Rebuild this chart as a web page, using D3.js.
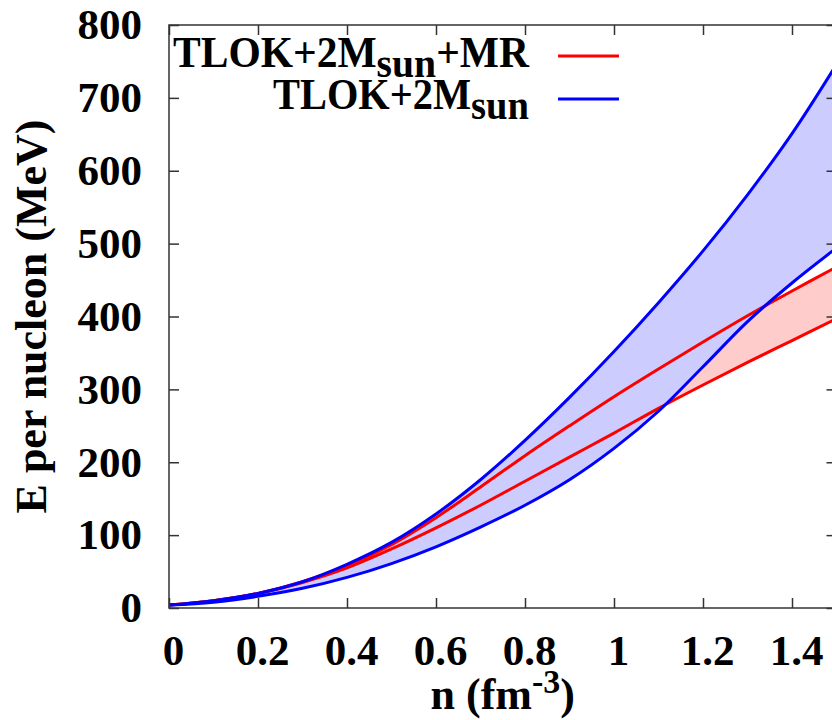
<!DOCTYPE html>
<html>
<head>
<meta charset="utf-8">
<script src="https://cdn.jsdelivr.net/npm/d3@7"></script>
<style>
  html, body { margin: 0; padding: 0; background: #fff; }
  svg { display: block; }
  text { font-family: "Liberation Serif", "Times New Roman", serif; font-weight: bold; fill: #000; }
</style>
</head>
<body>
<script>
// Energy per nucleon bands vs. baryon density
const density    = [0, 0.1, 0.2, 0.3, 0.4, 0.5, 0.6, 0.7, 0.8, 0.9, 1.0, 1.1, 1.2, 1.3, 1.4, 1.5];
const blueUpper  = [4, 10, 20, 36, 60, 90, 129, 176, 230, 289, 352, 419, 490, 567, 651, 746];
const blueLower  = [4, 8, 16, 27, 42, 61, 84, 111, 141, 176, 219, 270, 331, 393, 446, 494];
const redUpper   = [4, 10, 20, 36, 58, 87, 124, 166, 209, 250, 290, 328, 365, 401, 435, 468];
const redLower   = [4, 10, 20, 35, 55, 81, 110, 141, 174, 207, 240, 274, 306, 337, 367, 397];

const xTicks      = [0, 0.2, 0.4, 0.6, 0.8, 1.0, 1.2, 1.4];
const xTickLabels = ["0", "0.2", "0.4", "0.6", "0.8", "1", "1.2", "1.4"];
const yTicks      = [0, 100, 200, 300, 400, 500, 600, 700, 800];
const yTickLabels = ["0", "100", "200", "300", "400", "500", "600", "700", "800"];

const W = 832, H = 720;
const svg = d3.select("body").append("svg").attr("width", W).attr("height", H);

const x = d3.scaleLinear().domain([0, 1.5]).range([169, 836.5]);
const y = d3.scaleLinear().domain([0, 800]).range([608, 25]);

const rows = density.map((n, i) => ({
  n, bu: blueUpper[i], bl: blueLower[i], ru: redUpper[i], rl: redLower[i]
}));

const curve = d3.curveCatmullRom.alpha(0.5);
const band = (hi, lo) => d3.area().x(d => x(d.n)).y0(d => y(d[lo])).y1(d => y(d[hi])).curve(curve);
const line = key => d3.line().x(d => x(d.n)).y(d => y(d[key])).curve(curve);

const plot = svg.append("g");
plot.append("path").datum(rows).attr("d", band("ru", "rl")).attr("fill", "#ffcccc");
plot.append("path").datum(rows).attr("d", band("bu", "bl")).attr("fill", "#ccccff");

const RED = "#ff0000", BLUE = "#0000ff";
[["ru", RED], ["rl", RED], ["bu", BLUE], ["bl", BLUE]].forEach(([k, c]) => {
  plot.append("path").datum(rows).attr("d", line(k))
    .attr("fill", "none").attr("stroke", c).attr("stroke-width", 3)
    .attr("stroke-linejoin", "round");
});

// frame
svg.append("rect")
  .attr("x", x(0)).attr("y", y(800))
  .attr("width", x(1.5) - x(0)).attr("height", y(0) - y(800))
  .attr("fill", "none").attr("stroke", "#333").attr("stroke-width", 1.5);

const fs = 43;
const styleAxis = g => {
  g.select(".domain").remove();
  g.selectAll(".tick line").attr("stroke", "#333").attr("stroke-width", 1.5);
  g.selectAll("text").attr("font-size", fs).attr("fill", "#000")
    .attr("font-family", "Liberation Serif, Times New Roman, serif").attr("font-weight", "bold");
};

svg.append("g").attr("transform", `translate(0,${y(0)})`)
  .call(d3.axisBottom(x).tickValues(xTicks).tickFormat((d, i) => xTickLabels[i])
    .tickSizeInner(-10).tickSizeOuter(0).tickPadding(26))
  .call(styleAxis)
  .call(g => g.selectAll("text").attr("dx", 4));

svg.append("g").attr("transform", `translate(0,${y(800)})`)
  .call(d3.axisTop(x).tickValues(xTicks).tickFormat("").tickSizeInner(-10).tickSizeOuter(0))
  .call(styleAxis);

svg.append("g").attr("transform", `translate(${x(0)},0)`)
  .call(d3.axisLeft(y).tickValues(yTicks).tickFormat((d, i) => yTickLabels[i])
    .tickSizeInner(-10).tickSizeOuter(0).tickPadding(27))
  .call(styleAxis);

svg.append("g").attr("transform", `translate(${x(1.5)},0)`)
  .call(d3.axisRight(y).tickValues(yTicks).tickFormat("").tickSizeInner(-10).tickSizeOuter(0))
  .call(styleAxis);

// axis titles
const xt = svg.append("text").attr("x", (x(0) + x(1.5)) / 2).attr("y", 709)
  .attr("text-anchor", "middle").attr("font-size", 44);
xt.append("tspan").text("n (fm");
xt.append("tspan").attr("font-size", 34).attr("dy", -16).text("-3");
xt.append("tspan").attr("dy", 16).text(")");

svg.append("text")
  .attr("transform", `translate(46,${(y(0) + y(800)) / 2}) rotate(-90)`)
  .attr("text-anchor", "middle").attr("font-size", 44)
  .text("E per nucleon (MeV)");

// legend
const legend = [
  { label: "TLOK+2M", sub: "sun", tail: "+MR", color: RED, ty: 67, ly: 56, w: 356 },
  { label: "TLOK+2M", sub: "sun", tail: "", color: BLUE, ty: 109, ly: 99, w: 256 }
];
legend.forEach(e => {
  const t = svg.append("text").attr("x", 529).attr("y", e.ty)
    .attr("text-anchor", "end").attr("font-size", 44)
    .attr("textLength", e.w).attr("lengthAdjust", "spacingAndGlyphs");
  t.append("tspan").text(e.label);
  t.append("tspan").attr("font-size", 42).attr("dy", 10).text(e.sub);
  if (e.tail) t.append("tspan").attr("dy", -10).text(e.tail);
  svg.append("line").attr("x1", 558).attr("x2", 619).attr("y1", e.ly).attr("y2", e.ly)
    .attr("stroke", e.color).attr("stroke-width", 3);
});
</script>
</body>
</html>
